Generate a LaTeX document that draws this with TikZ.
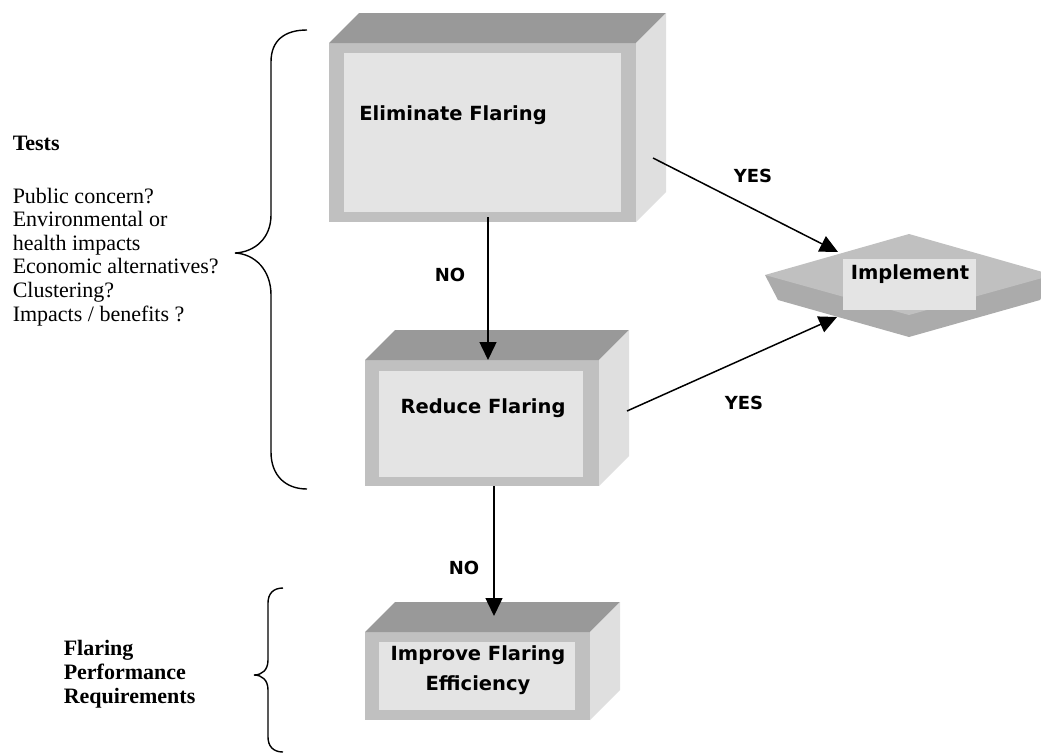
\documentclass[tikz,border=0pt]{standalone}
\usepackage{fontspec}
\setmainfont{Liberation Serif}
\newfontfamily\boxfont{DejaVu Sans}
\usetikzlibrary{arrows.meta,calc}
\definecolor{topgray}{RGB}{153,153,153}
\definecolor{framegray}{RGB}{192,192,192}
\definecolor{sidegray}{RGB}{223,223,223}
\definecolor{facegray}{RGB}{228,228,228}
\definecolor{bandgray}{RGB}{171,171,171}

\begin{document}
\begin{tikzpicture}[x=1pt, y=-1pt, line width=1.5pt,
    top face/.style={fill=topgray},
    side face/.style={fill=sidegray},
    frame face/.style={fill=framegray, inner sep=0pt, outer sep=0pt},
    inner face/.style={fill=facegray, inner sep=0pt, outer sep=0pt},
    box text/.style={font=\boxfont\bfseries\fontsize{19.5}{30}\selectfont, align=center, inner sep=0pt},
    answer/.style={font=\boxfont\bfseries\fontsize{18}{20}\selectfont, inner sep=0pt},
    flow/.style={draw, -{Triangle[length=18pt,width=17pt]}},
    brace/.style={draw, line width=1.4pt},
    side note/.style={align=left, anchor=north west, inner sep=0pt}
  ]
  \def\depth{30}
  \useasboundingbox (0,0) rectangle (1041,755);

  % the three boxes: front frame, top, side, inner face
  \node [frame face, minimum width=307pt, minimum height=179pt] (elim) at (482.5,132.5) {};
  \node [frame face, minimum width=234pt, minimum height=126pt] (reduce) at (482,423) {};
  \node [frame face, minimum width=225pt, minimum height=88pt] (improve) at (477.5,676) {};

  \foreach \b in {elim, reduce, improve} {
    \path [top face] (\b.north west) -- ++(\depth,-\depth) -- ($(\b.north east)+(\depth,-\depth)$) -- (\b.north east) -- cycle;
    \path [side face] (\b.north east) -- ++(\depth,-\depth) -- ($(\b.south east)+(\depth,-\depth)$) -- (\b.south east) -- cycle;
  }

  \node [inner face, minimum width=277pt, minimum height=159pt] (elimface) at (482.5,132.5) {};
  \node [inner face, minimum width=204pt, minimum height=106pt] (reduceface) at (481,424) {};
  \node [inner face, minimum width=196pt, minimum height=68pt] (improveface) at (477,676) {};

  \node [box text] (elimlabel) at (453,115) {Eliminate Flaring};
  \node [box text] (reducelabel) at (483,408) {Reduce Flaring};
  \node [box text] (improvelabel) at (478,670) {Improve Flaring\\Efficiency};

  % implement plate
  \coordinate (impl) at (909,275);
  \begin{scope}
    \clip (0,0) rectangle (1041,755);
    \path [fill=bandgray] ($(impl)+(-144,0)$) -- ($(impl)+(-131,25)$) -- ($(impl)+(0,62)$) -- ($(impl)+(131,25)$) -- ($(impl)+(144,0)$) -- cycle;
    \path [fill=framegray] ($(impl)+(-144,0)$) -- ($(impl)+(0,-41)$) -- ($(impl)+(144,0)$) -- ($(impl)+(0,40)$) -- cycle;
  \end{scope}
  \node [inner face, minimum width=133pt, minimum height=51pt] (implface) at (909.5,284.5) {};
  \node [box text] (impllabel) at (910,274) {Implement};

  % connectors
  \draw [flow] ($(elim.south)+(5.5,-5)$) -- ($(reduce.north)+(6,0)$);
  \draw [flow] ($(reduce.south)+(12,0)$) -- ($(improve.north)+(16.5,-16)$);
  \draw [flow] ($(elim.east)+(17,25.5)$) -- ($(impl)+(-71,-23)$);
  \draw [flow] ($(reduce.east)+(28,-12)$) -- ($(impl)+(-72,42)$);

  \node [answer] (no1) at (450,275) {NO};
  \node [answer] (no2) at (464,568) {NO};
  \node [answer] (yes1) at (753,176) {YES};
  \node [answer] (yes2) at (744,403) {YES};

  % braces and notes
  \path [brace] (307,30) .. controls (285,30) and (271,40) .. (271,62) -- (271,215)
    .. controls (271,238) and (255,252) .. (235,253) .. controls (255,254) and (271,270) .. (271,295)
    -- (271,452) .. controls (271,475) and (285,489) .. (307,489);
  \path [brace] (283,588) .. controls (273,588) and (268,594) .. (268,603) -- (268,660)
    .. controls (268,670) and (262,675) .. (254,675) .. controls (262,675) and (268,680) .. (268,690)
    -- (268,737) .. controls (268,746) and (273,752) .. (283,752);

  \node [side note, font=\fontsize{22}{23.6}\selectfont] (tests) at (12,135.4)
    {\textbf{Tests}\\[29pt]Public concern?\\Environmental or\\health impacts\\Economic alternatives?\\Clustering?\\Impacts / benefits ?};
  \node [side note, font=\bfseries\fontsize{22}{24}\selectfont] (perf) at (63,639.4)
    {Flaring\\Performance\\Requirements};
\end{tikzpicture}
\end{document}
